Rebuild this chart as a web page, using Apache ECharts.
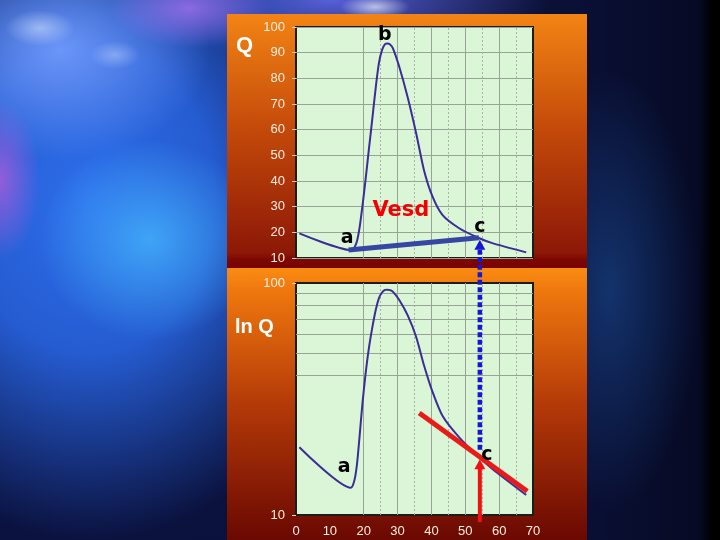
<!DOCTYPE html>
<html><head><meta charset="utf-8">
<script src="https://cdn.jsdelivr.net/npm/echarts@6/dist/echarts.min.js"></script>
<style>
html,body{margin:0;padding:0;background:#000;}
#bg{position:absolute;left:0;top:0;width:720px;height:540px;overflow:hidden;
background:
 radial-gradient(ellipse 35px 18px at 40px 28px, rgba(225,235,255,0.5), rgba(225,235,255,0) 100%),
 radial-gradient(ellipse 25px 14px at 115px 55px, rgba(210,225,255,0.4), rgba(210,225,255,0) 100%),
 radial-gradient(ellipse 35px 12px at 375px 7px, rgba(235,240,255,0.7), rgba(235,240,255,0) 100%),
 radial-gradient(ellipse 80px 40px at 190px 8px, rgba(190,120,250,0.65), rgba(190,120,250,0) 100%),
 radial-gradient(ellipse 40px 80px at 0px 180px, rgba(220,90,220,0.6), rgba(220,90,220,0) 100%),
 radial-gradient(ellipse 110px 100px at 150px 240px, rgba(70,185,255,0.75), rgba(70,185,255,0) 100%),
 radial-gradient(ellipse 150px 110px at 60px 50px, rgba(120,160,255,0.85), rgba(120,160,255,0) 100%),
 radial-gradient(ellipse 280px 340px at 90px 200px, rgba(45,110,235,1) 0%, rgba(40,100,225,0.9) 45%, rgba(30,60,170,0) 100%),
 radial-gradient(ellipse 220px 60px at 330px 0px, rgba(100,110,245,0.85), rgba(100,110,245,0) 100%),
 radial-gradient(ellipse 90px 220px at 610px 290px, rgba(25,70,140,0.65), rgba(25,70,140,0) 100%),
 linear-gradient(to right, #0b1240 0%, #0a1036 80%, #060a24 97%, #000 99%);
}
#p1{position:absolute;left:227px;top:14px;width:360px;height:254px;
 background:linear-gradient(to bottom,#f38414 0%,#c44a0a 45%,#8c1806 94%,#7c0602 97%,#780402 100%);}
#p2{position:absolute;left:227px;top:268px;width:360px;height:272px;
 background:linear-gradient(to bottom,#fa8c12 0%,#ef780e 8%,#b43a08 50%,#6a0802 100%);}
#chart{position:absolute;left:0;top:0;width:720px;height:540px;}
</style></head><body><div id="bg"></div><div id="p1"></div><div id="p2"></div><div id="chart"></div>
<script>
// ---- data (time in hours, discharge Q) ----
const timeH = [1, 16.2, 17.2, 18, 18.8, 19.6, 20.5, 21.5, 22.6, 23.6, 24.5, 25.4, 26.3, 27, 27.8, 28.6, 30.5, 33, 35.5, 37.8, 40.3, 43.3, 48.2, 53.8, 58, 68];
const flowQ = [19.6, 13.1, 14, 16.5, 22, 30, 40, 52, 65, 77, 86, 91, 93.3, 93.6, 93.2, 91.8, 84.5, 72.5, 58.5, 44.2, 34, 26.7, 21.6, 17.9, 15.8, 12.2];

// axes
const xMin = 0, xMax = 70, xStep = 10;
const qMin = 10, qMax = 100, qStep = 10;
const solidGridX = [20, 30, 40, 50, 60];
const dashedGridX = [25, 35, 45, 55, 65];
const logGridQ = [40, 50, 60, 70, 80, 90];

// annotations
const baseflowSeg = [[15.5, 13.1], [54, 17.9]];
const tangentSeg = [[36.4, 27.5], [68.3, 12.65]];
const labelsTop = [['a', 15.1, 17.8], ['b', 26.2, 96.8], ['c', 54.3, 22.1]];
const labelsBot = [['a', 14.2, 16.1], ['c', 56.4, 18.1]];
const vesdLabel = ['Vesd', 31, 28.3];
const pointCx = 54.3;

const curve = timeH.map((t, i) => [t, flowQ[i]]);
const axisTxt = '#fdeee2';
const gridCol = '#97a495';
const fontAx = "'Liberation Sans', Arial, sans-serif";
const fontLbl = "'DejaVu Sans', Verdana, sans-serif";

const chart = echarts.init(document.getElementById('chart'), null, {renderer: 'canvas'});

function vLines() {
  return solidGridX.map(v => ({xAxis: v, lineStyle: {type: 'solid', color: gridCol, width: 1}}))
    .concat(dashedGridX.map(v => ({xAxis: v, lineStyle: {type: [2, 2], color: '#a9b3a7', width: 1}})));
}

chart.setOption({
  animation: false,
  backgroundColor: 'transparent',
  grid: [
    {left: 296, top: 27, width: 237, height: 231, show: true, backgroundColor: '#daf6d7', borderColor: '#1c1c1c', borderWidth: 2},
    {left: 296, top: 283, width: 237, height: 232, show: true, backgroundColor: '#daf6d7', borderColor: '#1c1c1c', borderWidth: 2}
  ],
  xAxis: [
    {gridIndex: 0, type: 'value', min: xMin, max: xMax, interval: xStep, axisLine: {show: false},
     axisTick: {show: false}, axisLabel: {show: false}, splitLine: {show: false}},
    {gridIndex: 1, type: 'value', min: xMin, max: xMax, interval: xStep, axisLine: {show: false},
     axisTick: {show: false}, splitLine: {show: false},
     axisLabel: {color: axisTxt, fontSize: 13, fontFamily: fontAx, margin: 10}}
  ],
  yAxis: [
    {gridIndex: 0, type: 'value', min: qMin, max: qMax, interval: qStep, axisLine: {show: false},
     axisTick: {show: true, length: 4, lineStyle: {color: '#e8d0c0'}},
     splitLine: {show: true, lineStyle: {color: gridCol, width: 1}},
     axisLabel: {color: axisTxt, fontSize: 13, fontFamily: fontAx, margin: 11}},
    {gridIndex: 1, type: 'log', logBase: 10, min: qMin, max: qMax, axisLine: {show: false},
     axisTick: {show: true, length: 4, lineStyle: {color: '#e8d0c0'}},
     splitLine: {show: false},
     axisLabel: {color: axisTxt, fontSize: 13, fontFamily: fontAx, margin: 11}}
  ],
  series: [
    {type: 'line', xAxisIndex: 0, yAxisIndex: 0, data: curve, showSymbol: false, smooth: 0.22,
     lineStyle: {color: '#3c2c96', width: 2}, z: 3,
     markLine: {silent: true, symbol: 'none', label: {show: false}, z: 1, data: vLines()}},
    {type: 'line', xAxisIndex: 0, yAxisIndex: 0, data: baseflowSeg, showSymbol: false,
     lineStyle: {color: '#3646a2', width: 5}, z: 4},
    {type: 'line', xAxisIndex: 1, yAxisIndex: 1, data: curve, showSymbol: false, smooth: 0.22,
     lineStyle: {color: '#3c2c96', width: 2}, z: 3,
     markLine: {silent: true, symbol: 'none', label: {show: false}, z: 1,
       data: vLines().concat(logGridQ.map(v => ({yAxis: v, lineStyle: {type: 'solid', color: gridCol, width: 1}})))}},
    {type: 'line', xAxisIndex: 1, yAxisIndex: 1, data: tangentSeg, showSymbol: false,
     lineStyle: {color: '#e81a1a', width: 5}, z: 4}
  ]
});

// annotations drawn through the axes' own scales
const P = (i, v) => chart.convertToPixel({xAxisIndex: i, yAxisIndex: i}, v);
const topTip = P(0, [pointCx, 17.1]);
const blueStart = P(1, [pointCx, 19.1]);
const redTip = P(1, [pointCx, 17.4]);
const redStart = P(1, [pointCx, 9.33]);
const bx = topTip[0];

function txt(id, i, d, fill, size) {
  const p = P(i, [d[1], d[2]]);
  return {id: id, type: 'text', z: 70, x: p[0], y: p[1],
    style: {text: d[0], fill: fill, font: 'bold ' + size + 'px ' + fontLbl, align: 'center', verticalAlign: 'middle'}};
}
const texts = [];
labelsTop.forEach((d, k) => texts.push(txt('lt' + k, 0, d, '#000', 19)));
labelsBot.forEach((d, k) => texts.push(txt('lb' + k, 1, d, '#000', 19)));
texts.push(txt('vesd', 0, vesdLabel, '#f40000', 21));

chart.setOption({
  graphic: [
    {id: 'tQ', type: 'text', z: 50, x: 236, y: 35, style: {text: 'Q', fill: '#fff', font: 'bold 22px ' + fontAx}},
    {id: 'tlnQ', type: 'text', z: 50, x: 235, y: 317, style: {text: 'ln Q', fill: '#fff', font: 'bold 20px ' + fontAx}},
    {id: 'blueLine', type: 'line', z: 60, shape: {x1: bx, y1: blueStart[1], x2: bx, y2: topTip[1] + 8},
     style: {stroke: '#1616d6', lineWidth: 4.5, lineDash: [5, 2.5]}},
    {id: 'blueHead', type: 'polygon', z: 61, shape: {points: [[bx, topTip[1]], [bx - 5.5, topTip[1] + 10], [bx + 5.5, topTip[1] + 10]]},
     style: {fill: '#1616d6'}},
    {id: 'redLine', type: 'line', z: 60, shape: {x1: bx, y1: redStart[1], x2: bx, y2: redTip[1] + 8},
     style: {stroke: '#f01212', lineWidth: 4}},
    {id: 'redHead', type: 'polygon', z: 61, shape: {points: [[bx, redTip[1]], [bx - 5.5, redTip[1] + 10], [bx + 5.5, redTip[1] + 10]]},
     style: {fill: '#f01212'}}
  ].concat(texts)
});
</script></body></html>
